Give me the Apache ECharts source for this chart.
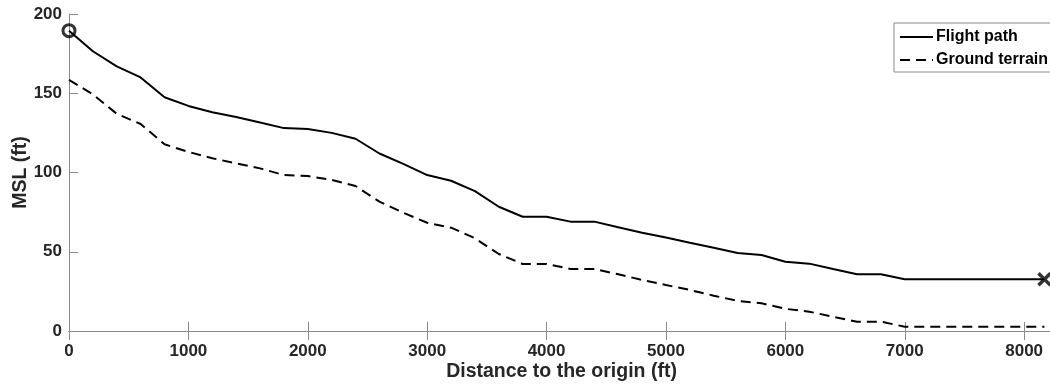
<!DOCTYPE html>
<html>
<head>
<meta charset="utf-8">
<script src="https://cdn.jsdelivr.net/npm/echarts@6/dist/echarts.min.js"></script>
<style>html,body{margin:0;padding:0;background:#fff;}#c{width:1050px;height:385px;}</style>
</head>
<body>
<div id="c"></div>
<script>
const distance = [0,200,400,600,800,1000,1200,1400,1600,1800,2000,2200,2400,2600,2800,3000,3200,3400,3600,3800,4000,4200,4400,4600,4800,5000,5200,5400,5600,5800,6000,6200,6400,6600,6800,7000,8170];
const flightPath = [189.5,176.5,167,160,147.5,142,138,135,131.5,128,127.5,125,121.3,112,105.4,98.4,94.8,88.3,78.4,72.1,72.1,69,69,65.4,62,59,55.7,52.5,49.2,47.9,43.7,42.5,39.1,35.8,35.8,32.6,32.6];
const groundTerrain = [158.4,149.3,137,130.6,117.8,113,109,105.8,102.6,98.4,97.8,95.3,91.5,81.6,74.6,68.3,65.2,58.5,48.6,42.3,42.3,39.1,39.1,35.8,32.2,29,25.9,22.3,19,17.5,14,12.2,9,5.9,5.9,2.7,2.7];
const seriesNames = ['Flight path','Ground terrain'];
const xTitle = 'Distance to the origin (ft)';
const yTitle = 'MSL (ft)';

const pairs = (xs, ys) => xs.map((x, i) => [x, ys[i]]);
const font = 'Liberation Sans, Arial, Helvetica, sans-serif';
const txt = '#262626';
const axisCol = '#8a8a8a';
const plain = v => String(v);

const chart = echarts.init(document.getElementById('c'), null, {renderer: 'canvas'});
chart.setOption({
  animation: false,
  backgroundColor: '#fff',
  grid: {left: 69, top: 14, width: 985, height: 317, containLabel: false, outerBoundsMode: 'none'},
  legend: {
    data: seriesNames,
    orient: 'vertical',
    left: 894, top: 23,
    itemWidth: 33, itemHeight: 14, itemGap: 7,
    padding: [6, 20, 4, 5],
    backgroundColor: '#fff',
    borderColor: '#8a8a8a', borderWidth: 1,
    itemStyle: {opacity: 0},
    textStyle: {fontFamily: font, fontWeight: 'bold', fontSize: 16, color: '#000', padding: [0,0,0,-2]}
  },
  xAxis: [{
    type: 'value', min: 0, max: 8250, interval: 1000,
    name: xTitle, nameLocation: 'middle', nameGap: 31, nameMoveOverlap: false,
    nameTextStyle: {fontFamily: font, fontWeight: 'bold', fontSize: 19.5, color: txt},
    axisLine: {show: true, onZero: false, lineStyle: {color: axisCol, width: 1}},
    axisTick: {show: true, inside: true, length: 9, lineStyle: {color: axisCol}},
    axisLabel: {fontFamily: font, fontWeight: 'bold', fontSize: 17, color: txt, margin: 12, showMaxLabel: false, formatter: plain},
    splitLine: {show: false}
  }, {
    type: 'value', position: 'top', min: 0, max: 8250, interval: 1000,
    axisLine: {show: true, lineStyle: {color: axisCol, width: 1}},
    axisTick: {show: true, inside: true, length: 9, lineStyle: {color: axisCol}},
    axisLabel: {show: false},
    splitLine: {show: false}
  }],
  yAxis: {
    type: 'value', min: 0, max: 200, interval: 50,
    name: yTitle, nameLocation: 'middle', nameGap: 38, nameRotate: 90, nameMoveOverlap: false,
    nameTextStyle: {fontFamily: font, fontWeight: 'bold', fontSize: 19.5, color: txt},
    axisLine: {show: true, lineStyle: {color: axisCol, width: 1}},
    axisTick: {show: true, inside: true, length: 9, lineStyle: {color: axisCol}},
    axisLabel: {fontFamily: font, fontWeight: 'bold', fontSize: 17, color: txt, margin: 7, formatter: plain},
    splitLine: {show: false}
  },
  series: [{
    name: seriesNames[0], type: 'line', data: pairs(distance, flightPath),
    symbol: 'none', smooth: false,
    lineStyle: {color: '#000', width: 2, type: 'solid'},
    itemStyle: {color: '#000'}
  }, {
    name: seriesNames[1], type: 'line', data: pairs(distance, groundTerrain),
    symbol: 'none', smooth: false,
    lineStyle: {color: '#000', width: 2, type: [10, 6]},
    itemStyle: {color: '#000'}
  }, {
    name: 'start', type: 'scatter', z: 5,
    data: [[distance[0], flightPath[0]]],
    symbol: 'circle', symbolSize: 12,
    itemStyle: {color: 'rgba(0,0,0,0)', borderColor: '#000', borderWidth: 3}
  }, {
    name: 'end', type: 'scatter', z: 5,
    data: [[distance[distance.length-1], flightPath[flightPath.length-1]]],
    symbol: 'path://M0,0L10,10M10,0L0,10', symbolSize: 12,
    itemStyle: {color: 'rgba(0,0,0,0)', borderColor: '#000', borderWidth: 3.5}
  }]
});
</script>
</body>
</html>
